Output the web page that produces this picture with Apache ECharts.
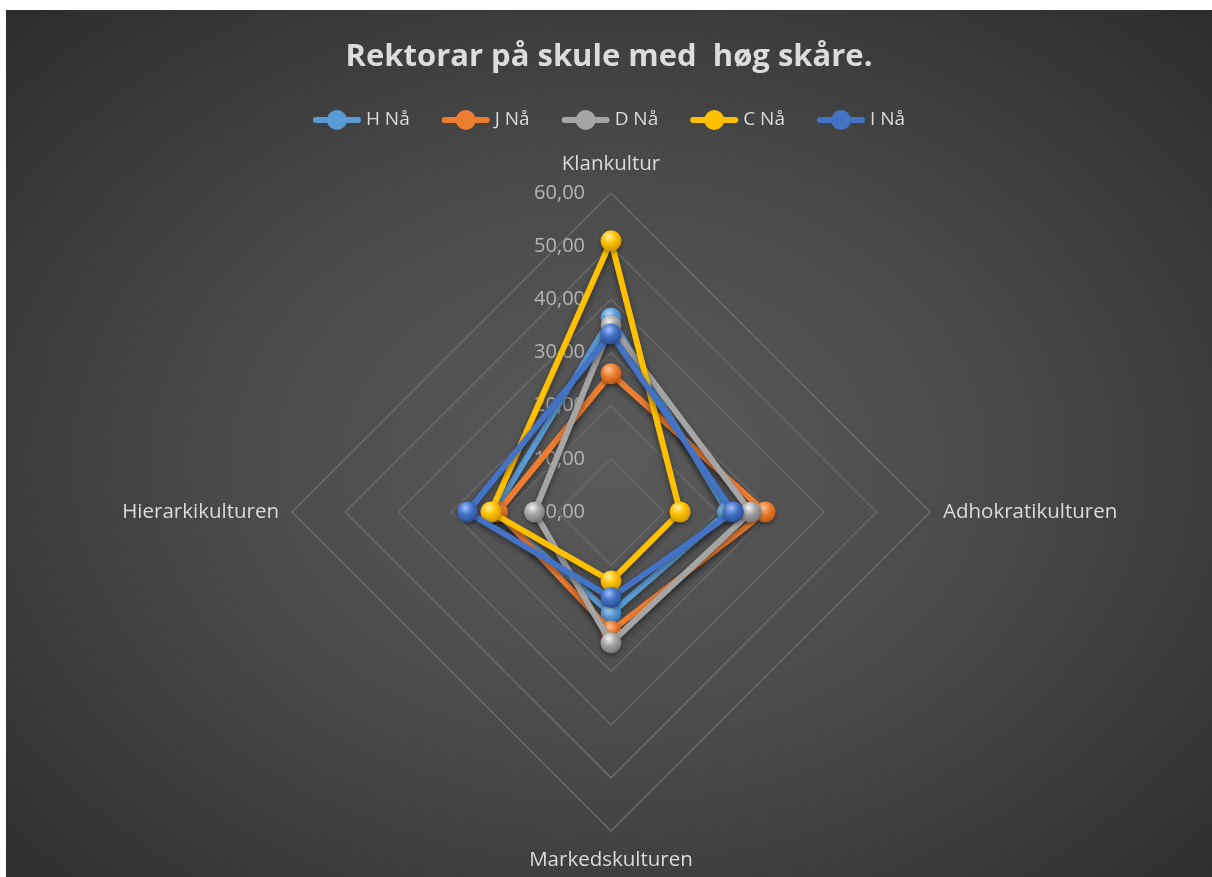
<!DOCTYPE html>
<html>
<head>
<meta charset="utf-8">
<script src="https://cdn.jsdelivr.net/npm/echarts@6/dist/echarts.min.js"></script>
<style>
  html, body { margin: 0; padding: 0; background: #fff; }
  #wrap {
    position: absolute; left: 6px; top: 10px; width: 1206px; height: 867px;
    background: radial-gradient(ellipse at 50% 52%, #5b5b5b 0%, #4a4a4a 45%, #2c2c2c 100%);
  }
  #chart { width: 1206px; height: 867px; }
</style>
</head>
<body>
<div id="wrap"><div id="chart"></div></div>
<script>
// indikatorar i rekkjefølgje mot klokka frå toppen
var indicators = ['Klankultur', 'Hierarkikulturen', 'Markedskulturen', 'Adhokratikulturen'];
var seriesNames = ['H Nå', 'J Nå', 'D Nå', 'C Nå', 'I Nå'];
var hNaa = [36.5, 22.0, 19.1, 21.9];
var jNaa = [26.0, 21.3, 22.4, 29.0];
var dNaa = [35.1, 14.4, 24.6, 26.3];
var cNaa = [51.0, 22.6, 13.0, 13.0];
var iNaa = [33.5, 27.0, 16.1, 23.0];
var axisMax = 60;

var seriesData = [hNaa, jNaa, dNaa, cNaa, iNaa];
var colors = ['#5B9BD5', '#ED7D31', '#A5A5A5', '#FFC000', '#4472C4'];
var lightColors = ['#b8dcff', '#ffc59a', '#f2f2f2', '#fff2a0', '#9fbfff'];
var darkColors = ['#2f6fa8', '#b5520f', '#707070', '#c79200', '#25478c'];

//ikon for forklaring: strek med kule
var legendIcon = 'path://M3,7L45,7A3,3 0 0 1 45,13L3,13A3,3 0 0 1 3,7Z' +
  'M24,0A10,10 0 1 1 24,20A10,10 0 1 1 24,0Z';

//kommaformat
function fmt(v) {
  return v.toFixed(2).replace('.', ',');
}

function sphere(i) {
  return new echarts.graphic.RadialGradient(0.4, 0.3, 0.75, [
    { offset: 0, color: lightColors[i] },
    { offset: 0.45, color: colors[i] },
    { offset: 1, color: darkColors[i] }
  ]);
}

var myChart = echarts.init(document.getElementById('chart'));

var indicatorOpt = [];
for (var k = 0; k < indicators.length; k++) {
  var ind = { name: indicators[k], min: 0, max: axisMax };
  if (k === 0) {
    ind.axisLabel = {
      show: true,
      color: '#b4b4b4',
      fontSize: 20,
      fontFamily: 'Open Sans',
      margin: 26,
      formatter: function (v) { return fmt(v); }
    };
  }
  indicatorOpt.push(ind);
}

var series = [];
var legendData = [];
for (var i = 0; i < seriesNames.length; i++) {
  legendData.push({
    name: seriesNames[i],
    icon: legendIcon,
    itemStyle: { color: colors[i] }
  });
  series.push({
    name: seriesNames[i],
    type: 'radar',
    symbol: 'circle',
    symbolSize: 21,
    z: 2 + i,
    lineStyle: {
      color: colors[i],
      width: 6,
      shadowColor: 'rgba(0,0,0,0.45)',
      shadowBlur: 6,
      shadowOffsetY: 3
    },
    itemStyle: {
      color: sphere(i),
      borderWidth: 0,
      shadowColor: 'rgba(0,0,0,0.4)',
      shadowBlur: 4,
      shadowOffsetY: 2
    },
    data: [{ value: seriesData[i], name: seriesNames[i] }]
  });
}

var option = {
  animation: false,
  backgroundColor: 'transparent',
  color: colors,
  title: {
    text: 'Rektorar på skule med  høg skåre.',
    left: 'center',
    top: 27,
    textStyle: {
      color: '#dcdcdc',
      fontSize: 31,
      fontWeight: 'bold',
      fontFamily: 'Open Sans'
    }
  },
  legend: {
    top: 95,
    left: 'center',
    itemWidth: 48,
    itemHeight: 20,
    itemGap: 32,
    textStyle: { color: '#dadada', fontSize: 19, fontFamily: 'Open Sans' },
    data: legendData
  },
  radar: {
    center: [605, 502],
    radius: 319,
    startAngle: 90,
    shape: 'polygon',
    splitNumber: 6,
    indicator: indicatorOpt,
    axisName: {
      color: '#dadada',
      fontSize: 20.5,
      lineHeight: 32,
      fontFamily: 'Open Sans'
    },
    nameGap: 13,
    axisLine: { show: false },
    axisTick: { show: false },
    axisLabel: { show: false },
    splitLine: { lineStyle: { color: '#6a6a6a', width: 1.5 } },
    splitArea: { show: false }
  },
  series: series
};
myChart.setOption(option);
</script>
</body>
</html>
